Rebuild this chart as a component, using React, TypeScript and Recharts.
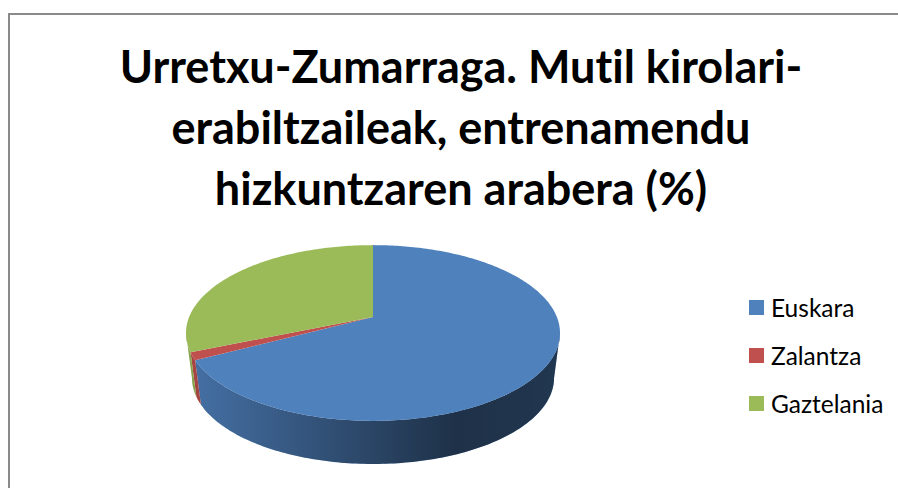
import { PieChart, Pie, Legend } from "recharts"

const TITLE_LINES = ["Urretxu-Zumarraga. Mutil kirolari-", "erabiltzaileak, entrenamendu", "hizkuntzaren arabera (%)"]
const CATEGORIES = ["Euskara", "Zalantza", "Gaztelania"]
const VALUES = [67.3, 1.4, 31.3]
const COLORS = ["#4f81bd", "#c0504d", "#9bbb59"]

const tableData = CATEGORIES.map((name, i) => ({ name, value: VALUES[i], fill: COLORS[i] }))

// look of the tilted pie, all relative to the outer radius
const TILT = 0.47
const APEX_SHIFT = 0.0856 // the ellipse centre sits this far below the apex
const BASE_SHIFT = 0.326
const BASE_RX = 0.968
const BASE_RY = 0.46

const rad = (deg: number) => (deg * Math.PI) / 180

// perspective: maps a pie angle onto the rim of the top ellipse, unit coordinates
function rim(angle: number) {
  const phi = rad(90 - angle)
  const k = APEX_SHIFT / TILT
  const s = Math.sqrt(1 - k * k)
  const X = Math.sin(phi)
  const Y = Math.cos(phi)
  return { u: (X * s) / (1 + k * Y), v: (Y + k) / (1 + k * Y) }
}

function sampleAngles(start: number, end: number) {
  const steps = Math.max(2, Math.ceil(Math.abs(start - end)))
  return Array.from({ length: steps + 1 }, (_, i) => start + ((end - start) * i) / steps)
}

function TopSector(props: any) {
  const { cx, cy, outerRadius: r, startAngle, endAngle, fill } = props
  const pts = sampleAngles(startAngle, endAngle).map((a) => {
    const { u, v } = rim(a)
    return `${cx + r * u},${cy + r * APEX_SHIFT - r * TILT * v}`
  })
  return <path d={`M${cx},${cy}L${pts.join("L")}Z`} fill={fill} />
}

function WallSector(props: any) {
  const { cx, cy, outerRadius: r, startAngle, endAngle, fill } = props
  const front = sampleAngles(startAngle, endAngle).filter((a) => rim(a).v <= 0)
  if (front.length < 2) return <g />
  const upper = front.map((a) => {
    const { u, v } = rim(a)
    return `${cx + r * u},${cy + r * APEX_SHIFT - r * TILT * v}`
  })
  const lower = front
    .slice()
    .reverse()
    .map((a) => {
      const { u, v } = rim(a)
      return `${cx + r * BASE_RX * u},${cy + r * BASE_SHIFT - r * BASE_RY * v}`
    })
  const d = `M${upper.join("L")}L${lower.join("L")}Z`
  const id = `shade-${props.name}`
  return (
    <g>
      <defs>
        <linearGradient id={id} gradientUnits="userSpaceOnUse" x1={cx - r} x2={cx + r} y1={0} y2={0}>
          <stop offset="0%" stopColor="#000" stopOpacity={0.12} />
          <stop offset="72%" stopColor="#000" stopOpacity={0.62} />
          <stop offset="100%" stopColor="#000" stopOpacity={0.58} />
        </linearGradient>
      </defs>
      <path d={d} fill={fill} />
      <path d={d} fill={`url(#${id})`} />
    </g>
  )
}

function LegendList({ payload }: any) {
  // both pie layers report their slices, only the top layer belongs in the legend
  const items = (payload || []).filter((item: any, i: number, all: any[]) => all.findIndex((o) => o.value === item.value) === i)
  return (
    <div>
      {items.map((item: any) => (
        <div key={item.value} style={{ display: "flex", alignItems: "center", height: 48 }}>
          <span style={{ width: 15, height: 15, background: item.color, marginRight: 7 }} />
          <span style={{ fontSize: 24.5, color: "#000" }}>{item.value}</span>
        </div>
      ))}
    </div>
  )
}

export default function App() {
  return (
    <div style={{ position: "absolute", left: 0, top: 0, width: 898, height: 488, overflow: "hidden", background: "#fff", fontFamily: "Lato, sans-serif", fontVariantLigatures: "none" }}>
      <div style={{ position: "absolute", left: 8, top: 13, width: 890, height: 475, borderTop: "2px solid #8a8a8a", borderLeft: "2px solid #8a8a8a", boxSizing: "border-box" }} />
      <div style={{ position: "absolute", left: 0, top: 36, width: 922, textAlign: "center", fontSize: 45, fontWeight: 700, lineHeight: "61px", color: "#000" }}>
        {TITLE_LINES.map((line) => (
          <div key={line}>{line}</div>
        ))}
      </div>
      <div style={{ position: "absolute", left: 0, top: 0 }}>
        <PieChart width={898} height={488} margin={{ top: 0, right: 0, bottom: 0, left: 0 }}>
          <Pie data={tableData} dataKey="value" nameKey="name" cx={373} cy={317} outerRadius={187} startAngle={90} endAngle={-270} stroke="none" legendType="none" isAnimationActive={false} shape={WallSector} />
          <Pie data={tableData} dataKey="value" nameKey="name" cx={373} cy={317} outerRadius={187} startAngle={90} endAngle={-270} stroke="none" isAnimationActive={false} shape={TopSector} />
          <Legend layout="vertical" align="right" verticalAlign="top" itemSorter={null} content={LegendList} wrapperStyle={{ left: 749, top: 283, width: 149 }} />
        </PieChart>
      </div>
    </div>
  )
}
